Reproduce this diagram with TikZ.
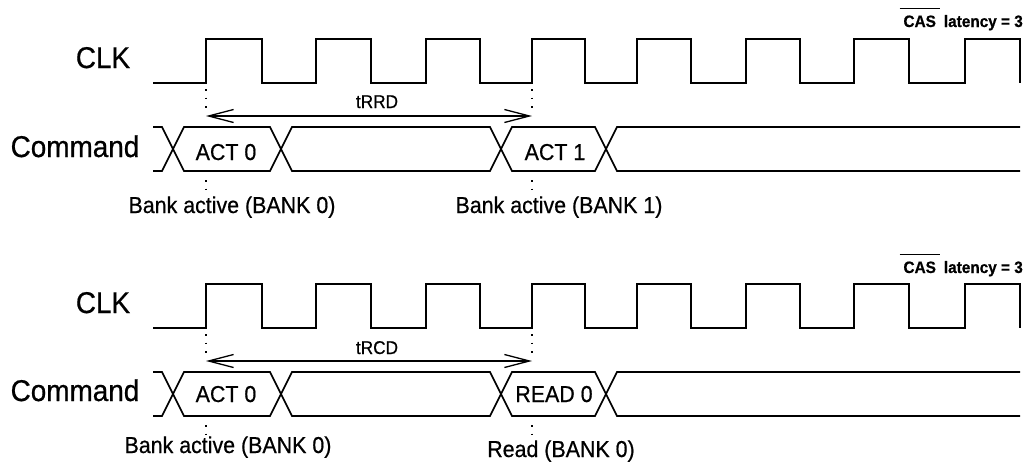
\documentclass[tikz,border=0pt]{standalone}
\usepackage{fontspec}
\setmainfont{Liberation Sans}[FakeStretch=0.93,FakeBold=0.6]
\usetikzlibrary{arrows.meta}
\newcommand\ovlbar[1]{\leavevmode\vbox{\hrule height 1.2pt\kern 6pt\hbox{\kern4pt#1\kern4pt}}}
\tikzset{
  wave/.style={line width=1.7pt, line join=miter},
  tickline/.style={line width=1.5pt, dash pattern=on 1.5pt off 7pt},
  spanarrow/.style={{Straight Barb[length=25pt,width=13pt]}-{Straight Barb[length=25pt,width=13pt]}, line width=1.3pt},
  big/.style={font=\fontsize{30}{36}\selectfont, anchor=base, inner sep=0pt},
  small/.style={font=\fontsize{23}{28}\selectfont, anchor=base, inner sep=0pt},
  mid/.style={font=\fontsize{18.5}{22}\selectfont, anchor=base, inner sep=0pt},
  cas/.style={font=\fontsize{16.5}{20}\selectfont\bfseries, anchor=base east, inner sep=0pt}
}
\newcommand\drawtiming[1]{%
\begin{scope}[shift={(0,#1)}]
  \draw[wave] (153,83) -| (206,39) -| (262,83) -| (316,39) -| (371,83) -| (426,39)
     -| (480,83) -| (532,39) -| (585,83) -| (637,39) -| (691,83) -| (746,39)
     -| (800,83) -| (854,39) -| (909,83) -| (965,39) -| (1020,83);
  \draw[wave] (153,127) -- (162,127) -- (184,171) -- (270,171) -- (292,127) -- (490,127)
     -- (512,171) -- (595,171) -- (617,127) -- (1020,127);
  \draw[wave] (153,171) -- (162,171) -- (184,127) -- (270,127) -- (292,171) -- (490,171)
     -- (512,127) -- (595,127) -- (617,171) -- (1020,171);
  \draw[tickline] (206,89) -- (206,113);
  \draw[tickline] (206,180) -- (206,192);
  \draw[tickline] (532,89) -- (532,113);
  \draw[tickline] (532,180) -- (532,192);
\end{scope}}
\begin{document}
\begin{tikzpicture}[x=1pt,y=-1pt]
\useasboundingbox (0,0) rectangle (1029,466);
\fill[white] (0,0) rectangle (1029,466);
% top diagram
\drawtiming{0}
\coordinate (aL) at (206,116);
\coordinate (aR) at (532,116);
\draw[spanarrow] (aL) -- (aR);
\node[big] (clk1) at (103,68) {CLK};
\node[big] (cmd1) at (75,157) {Command};
\node[small] (act01) at (226,160) {ACT 0};
\node[small] (act11) at (555,160) {ACT 1};
\node[mid] (trrd) at (377,108) {tRRD};
\node[small] (bank10) at (232,213) {Bank active (BANK 0)};
\node[small] (bank11) at (559,213) {Bank active (BANK 1)};
\node[cas] (cas1) at (1023,27) {\ovlbar{CAS}\hspace{4pt}latency = 3};
% bottom diagram
\drawtiming{245}
\coordinate (bL) at (206,361);
\coordinate (bR) at (532,361);
\draw[spanarrow] (bL) -- (bR);
\node[big] (clk2) at (103,313) {CLK};
\node[big] (cmd2) at (75,401) {Command};
\node[small] (act02) at (226,402) {ACT 0};
\node[small] (read02) at (554,402) {READ 0};
\node[mid] (trcd) at (377,354) {tRCD};
\node[small] (bank20) at (228,453) {Bank active (BANK 0)};
\node[small] (read2) at (561,457) {Read (BANK 0)};
\node[cas] (cas2) at (1023,273) {\ovlbar{CAS}\hspace{4pt}latency = 3};
\end{tikzpicture}
\end{document}
